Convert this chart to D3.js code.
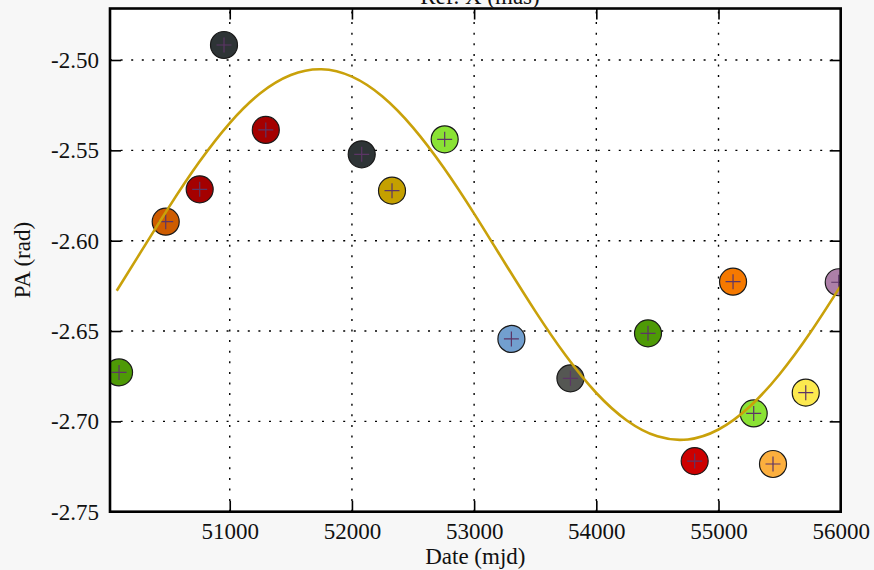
<!DOCTYPE html>
<html>
<head>
<meta charset="utf-8">
<script src="https://cdn.jsdelivr.net/npm/d3@7/dist/d3.min.js"></script>
<style>
  html, body { margin: 0; padding: 0; background: #f7f7f7; }
  svg { display: block; }
  text { font-family: "Liberation Serif", "Times New Roman", serif; fill: #111; }
</style>
</head>
<body>
<svg id="chart" width="874" height="570"></svg>
<script>
// Position angle measurements per epoch (MJD, radians)
const dates = [50094, 50476, 50754, 50953, 51295, 52080, 52328, 52759, 53305,
               53788, 54423, 54805, 55119, 55288, 55446, 55714, 55984];
const pa = [-2.6729, -2.5895, -2.5716, -2.4917, -2.5387, -2.5522, -2.5723, -2.5439, -2.6544,
            -2.6762, -2.6513, -2.7220, -2.6227, -2.6956, -2.7236, -2.6841, -2.6230];
const pointColors = ["#4e9a06", "#ce5c00", "#a40000", "#2e3436", "#a40000", "#2e3436", "#c4a000",
                     "#8ae234", "#729fcf", "#555753", "#4e9a06", "#cc0000", "#f57900", "#8ae234",
                     "#fcaf3e", "#fce94f", "#ad7fa8"];

// Fitted orbital model, sampled along the date range
const fitDates = [50075, 50250, 50500, 50750, 51000, 51250, 51500, 51750, 52000, 52250, 52500,
                  52750, 53000, 53250, 53500, 53750, 54000, 54250, 54500, 54750, 55000, 55250,
                  55500, 55750, 56000];
const fitPA = [-2.6277, -2.6087, -2.5817, -2.5565, -2.5349, -2.5184, -2.5083, -2.5051, -2.5092,
               -2.5202, -2.5374, -2.5595, -2.5850, -2.6122, -2.6390, -2.6636, -2.6843, -2.6995,
               -2.7083, -2.7100, -2.7045, -2.6922, -2.6739, -2.6510, -2.6250];

const xTicks = [51000, 52000, 53000, 54000, 55000, 56000];
const yTicks = [-2.75, -2.70, -2.65, -2.60, -2.55, -2.50];

const xLabel = "Date (mjd)";
const yLabel = "PA (rad)";
const topLabel = "Ref. X (mas)";

const svg = d3.select("#chart");
const plot = { left: 110, right: 840.7, top: 8.5, bottom: 511.7 };
const W = plot.right - plot.left, H = plot.bottom - plot.top;

const x = d3.scaleLinear().domain([50020, 56000]).range([plot.left, plot.right]);
const y = d3.scaleLinear().domain([-2.75, -2.4715]).range([plot.bottom, plot.top]);

// plot background
svg.append("rect").attr("x", plot.left).attr("y", plot.top).attr("width", W).attr("height", H)
  .attr("fill", "#ffffff");

svg.append("defs").append("clipPath").attr("id", "plotClip")
  .append("rect").attr("x", plot.left).attr("y", plot.top).attr("width", W).attr("height", H);

// dotted grid
const grid = svg.append("g").attr("stroke", "#000").attr("stroke-width", 1.4)
  .attr("stroke-dasharray", "2,8.6");
grid.selectAll("line.gx").data(xTicks).join("line")
  .attr("x1", d => x(d)).attr("x2", d => x(d))
  .attr("y1", plot.bottom).attr("y2", plot.top);
grid.selectAll("line.gy").data(yTicks).join("line")
  .attr("x1", plot.left).attr("x2", plot.right)
  .attr("y1", d => y(d)).attr("y2", d => y(d));

// axes with inward ticks on all four sides
const fmtY = d => d.toFixed(2);
const tickLen = 11;
const bottomAxis = d3.axisBottom(x).tickValues(xTicks).tickSize(-tickLen).tickPadding(11)
  .tickFormat(d => String(d));
const topAxis = d3.axisTop(x).tickValues(xTicks).tickSize(-tickLen).tickFormat("");
const leftAxis = d3.axisLeft(y).tickValues(yTicks).tickSize(-tickLen).tickPadding(11)
  .tickFormat(fmtY);
const rightAxis = d3.axisRight(y).tickValues(yTicks).tickSize(-tickLen).tickFormat("");

function styleAxis(g) {
  g.select(".domain").remove();
  g.selectAll(".tick line").attr("stroke", "#000").attr("stroke-width", 1.6);
  g.selectAll(".tick text").attr("font-size", 23).attr("font-family", "Liberation Serif, serif")
    .attr("fill", "#111");
}
svg.append("g").attr("transform", `translate(0,${plot.bottom})`).call(bottomAxis).call(styleAxis);
svg.append("g").attr("transform", `translate(0,${plot.top})`).call(topAxis).call(styleAxis);
svg.append("g").attr("transform", `translate(${plot.left},0)`).call(leftAxis).call(styleAxis);
svg.append("g").attr("transform", `translate(${plot.right},0)`).call(rightAxis).call(styleAxis);

// data points
const pts = svg.append("g").attr("clip-path", "url(#plotClip)");
const data = dates.map((d, i) => ({ d, v: pa[i], c: pointColors[i] }));
pts.selectAll("circle").data(data).join("circle")
  .attr("cx", p => x(p.d)).attr("cy", p => y(p.v)).attr("r", 13.5)
  .attr("fill", p => p.c).attr("stroke", "#1a1a1a").attr("stroke-width", 1.2);
const half = 7.5;
pts.selectAll("path.plus").data(data).join("path").attr("class", "plus")
  .attr("d", p => `M${x(p.d) - half},${y(p.v)}H${x(p.d) + half}M${x(p.d)},${y(p.v) - half}V${y(p.v) + half}`)
  .attr("stroke", "#5c3566").attr("stroke-width", 1.2).attr("fill", "none");

// model curve
const line = d3.line().x((d, i) => x(fitDates[i])).y(d => y(d)).curve(d3.curveNatural);
svg.append("path").attr("clip-path", "url(#plotClip)")
  .attr("d", line(fitPA)).attr("fill", "none").attr("stroke", "#c9a10a").attr("stroke-width", 2.6);

// frame
svg.append("rect").attr("x", plot.left).attr("y", plot.top).attr("width", W).attr("height", H)
  .attr("fill", "none").attr("stroke", "#000").attr("stroke-width", 2.6);

// axis titles
svg.append("text").attr("x", (plot.left + plot.right) / 2).attr("y", 564)
  .attr("text-anchor", "middle").attr("font-size", 23).text(xLabel);
svg.append("text").attr("transform", `translate(30,${(plot.top + plot.bottom) / 2}) rotate(-90)`)
  .attr("text-anchor", "middle").attr("font-size", 23).text(yLabel);
svg.append("text").attr("x", 480).attr("y", 4)
  .attr("text-anchor", "middle").attr("font-size", 23).text(topLabel);
</script>
</body>
</html>
